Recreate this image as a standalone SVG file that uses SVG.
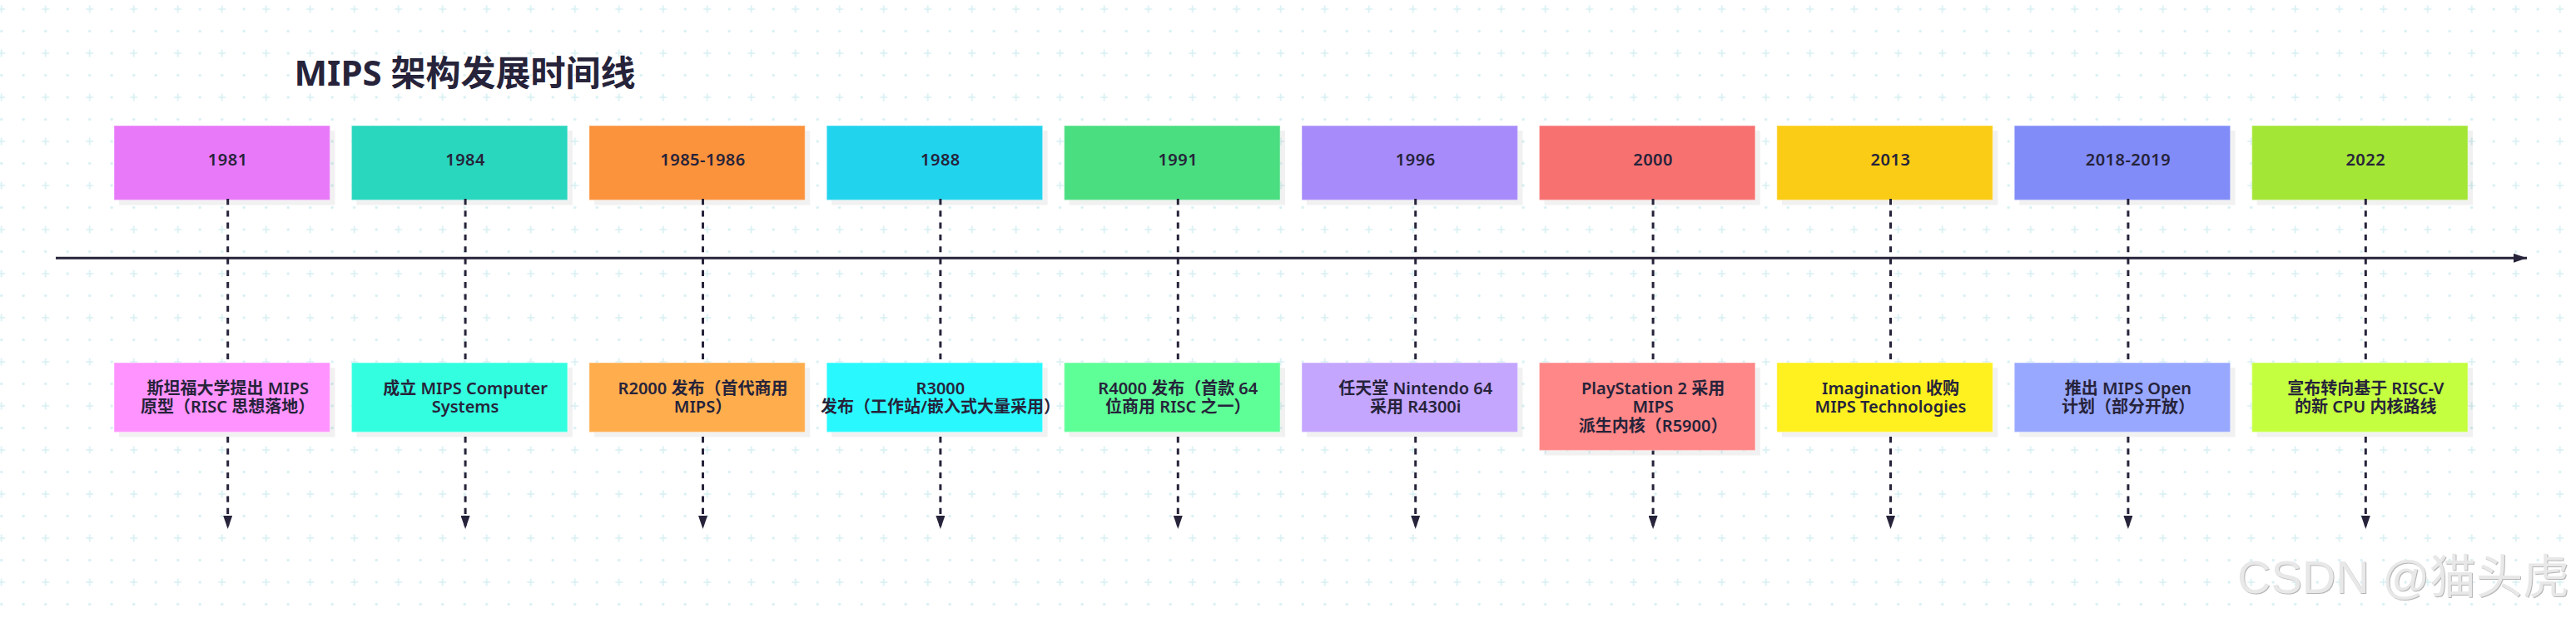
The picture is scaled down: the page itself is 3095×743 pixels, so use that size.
<svg xmlns="http://www.w3.org/2000/svg" width="3095" height="743" viewBox="0 0 3095 743">
<style>
text{font-family:"Noto Sans","Noto Sans CJK SC",sans-serif;fill:#26233a;font-size:20px;font-weight:600;text-anchor:middle}
.year{letter-spacing:.5px}
.title{font-size:42px;font-weight:700;text-anchor:start}
.box{stroke:#fff;stroke-opacity:.35;stroke-width:1.4}
.sh{fill:#000;fill-opacity:.055}
.drop{fill:none;stroke:#26233a;stroke-width:3;stroke-dasharray:7.15 7.15}
.axis{fill:none;stroke:#26233a;stroke-width:3}
.wm{font-family:"Liberation Sans","Noto Sans CJK SC",sans-serif;font-size:56px;font-weight:400;fill:#e8e8e8;text-anchor:start}
</style>
<defs>
<pattern id="grid" patternUnits="userSpaceOnUse" x="-11.3" y="-2" width="53" height="53">
<path d="M8.5 13H17.5M13 8.5V17.5" stroke="#d8f0f3" stroke-width="1.7" fill="none"/>
<circle cx="39.5" cy="13" r="1.7" fill="#d8f0f3"/><circle cx="13" cy="39.5" r="1.7" fill="#d8f0f3"/><circle cx="39.5" cy="39.5" r="1.7" fill="#d8f0f3"/>
</pattern>
<marker id="arrow" markerUnits="userSpaceOnUse" markerWidth="16" markerHeight="11" refX="16" refY="5.5" orient="auto"><path d="M0 0L16 5.5L0 11z" fill="#26233a"/></marker>
<filter id="emboss" x="-2%" y="-10%" width="104%" height="120%"><feDropShadow dx="1" dy="1" stdDeviation=".6" flood-color="#b5b5b5"/></filter>
</defs>
<rect width="3095" height="743" fill="#fff"/>
<rect width="3095" height="743" fill="url(#grid)"/>
<g id="title"><text class="title" x="353.5" y="103">MIPS 架构发展时间线</text></g>
<g id="year-1981"><rect class="sh" x="143" y="157" width="259.5" height="89.5"/><rect class="box" fill="#e879f9" x="137" y="151" width="259.5" height="89.5"/><text class="year" x="273.7" y="199.3">1981</text></g>
<g id="year-1984"><rect class="sh" x="428.4" y="157" width="259.5" height="89.5"/><rect class="box" fill="#29d6be" x="422.4" y="151" width="259.5" height="89.5"/><text class="year" x="559.1" y="199.3">1984</text></g>
<g id="year-1985"><rect class="sh" x="713.8" y="157" width="259.5" height="89.5"/><rect class="box" fill="#fb923c" x="707.8" y="151" width="259.5" height="89.5"/><text class="year" x="844.5" y="199.3">1985-1986</text></g>
<g id="year-1988"><rect class="sh" x="999.2" y="157" width="259.5" height="89.5"/><rect class="box" fill="#22d3ee" x="993.2" y="151" width="259.5" height="89.5"/><text class="year" x="1129.9" y="199.3">1988</text></g>
<g id="year-1991"><rect class="sh" x="1284.6" y="157" width="259.5" height="89.5"/><rect class="box" fill="#4ade80" x="1278.6" y="151" width="259.5" height="89.5"/><text class="year" x="1415.3" y="199.3">1991</text></g>
<g id="year-1996"><rect class="sh" x="1570" y="157" width="259.5" height="89.5"/><rect class="box" fill="#a78bfa" x="1564" y="151" width="259.5" height="89.5"/><text class="year" x="1700.7" y="199.3">1996</text></g>
<g id="year-2000"><rect class="sh" x="1855.4" y="157" width="259.5" height="89.5"/><rect class="box" fill="#f87171" x="1849.4" y="151" width="259.5" height="89.5"/><text class="year" x="1986.1" y="199.3">2000</text></g>
<g id="year-2013"><rect class="sh" x="2140.8" y="157" width="259.5" height="89.5"/><rect class="box" fill="#facc15" x="2134.8" y="151" width="259.5" height="89.5"/><text class="year" x="2271.5" y="199.3">2013</text></g>
<g id="year-2018"><rect class="sh" x="2426.2" y="157" width="259.5" height="89.5"/><rect class="box" fill="#818cf8" x="2420.2" y="151" width="259.5" height="89.5"/><text class="year" x="2556.9" y="199.3">2018-2019</text></g>
<g id="year-2022"><rect class="sh" x="2711.6" y="157" width="259.5" height="89.5"/><rect class="box" fill="#a3e635" x="2705.6" y="151" width="259.5" height="89.5"/><text class="year" x="2842.3" y="199.3">2022</text></g>
<g id="connectors">
<path class="axis" d="M67 310.3H3036" marker-end="url(#arrow)"/>
<path class="drop" d="M273.7 239V636" marker-end="url(#arrow)"/>
<path class="drop" d="M559.1 239V636" marker-end="url(#arrow)"/>
<path class="drop" d="M844.5 239V636" marker-end="url(#arrow)"/>
<path class="drop" d="M1129.9 239V636" marker-end="url(#arrow)"/>
<path class="drop" d="M1415.3 239V636" marker-end="url(#arrow)"/>
<path class="drop" d="M1700.7 239V636" marker-end="url(#arrow)"/>
<path class="drop" d="M1986.1 239V636" marker-end="url(#arrow)"/>
<path class="drop" d="M2271.5 239V636" marker-end="url(#arrow)"/>
<path class="drop" d="M2556.9 239V636" marker-end="url(#arrow)"/>
<path class="drop" d="M2842.3 239V636" marker-end="url(#arrow)"/>
</g>
<g id="event-1981"><rect class="sh" x="143" y="442" width="259.5" height="83.5"/><rect class="box" fill="#ff93ff" x="137" y="436" width="259.5" height="83.5"/><text x="273.7" y="474"><tspan x="273.7">斯坦福大学提出 MIPS</tspan><tspan x="273.7" dy="22.4">原型（RISC 思想落地）</tspan></text></g>
<g id="event-1984"><rect class="sh" x="428.4" y="442" width="259.5" height="83.5"/><rect class="box" fill="#33ffe0" x="422.4" y="436" width="259.5" height="83.5"/><text x="559.1" y="474"><tspan x="559.1">成立 MIPS Computer</tspan><tspan x="559.1" dy="22.4">Systems</tspan></text></g>
<g id="event-1985"><rect class="sh" x="713.8" y="442" width="259.5" height="83.5"/><rect class="box" fill="#ffad4d" x="707.8" y="436" width="259.5" height="83.5"/><text x="844.5" y="474"><tspan x="844.5">R2000 发布（首代商用</tspan><tspan x="844.5" dy="22.4">MIPS）</tspan></text></g>
<g id="event-1988"><rect class="sh" x="999.2" y="442" width="259.5" height="83.5"/><rect class="box" fill="#29f9ff" x="993.2" y="436" width="259.5" height="83.5"/><text x="1129.9" y="474"><tspan x="1129.9">R3000</tspan><tspan x="1129.9" dy="22.4">发布（工作站/嵌入式大量采用）</tspan></text></g>
<g id="event-1991"><rect class="sh" x="1284.6" y="442" width="259.5" height="83.5"/><rect class="box" fill="#5fff97" x="1278.6" y="436" width="259.5" height="83.5"/><text x="1415.3" y="474"><tspan x="1415.3">R4000 发布（首款 64</tspan><tspan x="1415.3" dy="22.4">位商用 RISC 之一）</tspan></text></g>
<g id="event-1996"><rect class="sh" x="1570" y="442" width="259.5" height="83.5"/><rect class="box" fill="#c4a6ff" x="1564" y="436" width="259.5" height="83.5"/><text x="1700.7" y="474"><tspan x="1700.7">任天堂 Nintendo 64</tspan><tspan x="1700.7" dy="22.4">采用 R4300i</tspan></text></g>
<g id="event-2000"><rect class="sh" x="1855.4" y="442" width="259.5" height="105.5"/><rect class="box" fill="#ff8787" x="1849.4" y="436" width="259.5" height="105.5"/><text x="1986.1" y="474"><tspan x="1986.1">PlayStation 2 采用</tspan><tspan x="1986.1" dy="22.4">MIPS</tspan><tspan x="1986.1" dy="22.4">派生内核（R5900）</tspan></text></g>
<g id="event-2013"><rect class="sh" x="2140.8" y="442" width="259.5" height="83.5"/><rect class="box" fill="#fff01f" x="2134.8" y="436" width="259.5" height="83.5"/><text x="2271.5" y="474"><tspan x="2271.5">Imagination 收购</tspan><tspan x="2271.5" dy="22.4">MIPS Technologies</tspan></text></g>
<g id="event-2018"><rect class="sh" x="2426.2" y="442" width="259.5" height="83.5"/><rect class="box" fill="#99a8ff" x="2420.2" y="436" width="259.5" height="83.5"/><text x="2556.9" y="474"><tspan x="2556.9">推出 MIPS Open</tspan><tspan x="2556.9" dy="22.4">计划（部分开放）</tspan></text></g>
<g id="event-2022"><rect class="sh" x="2711.6" y="442" width="259.5" height="83.5"/><rect class="box" fill="#c4ff40" x="2705.6" y="436" width="259.5" height="83.5"/><text x="2842.3" y="474"><tspan x="2842.3">宣布转向基于 RISC-V</tspan><tspan x="2842.3" dy="22.4">的新 CPU 内核路线</tspan></text></g>
<g id="watermark"><text class="wm" x="2688" y="713" filter="url(#emboss)">CSDN @猫头虎</text></g>
</svg>
